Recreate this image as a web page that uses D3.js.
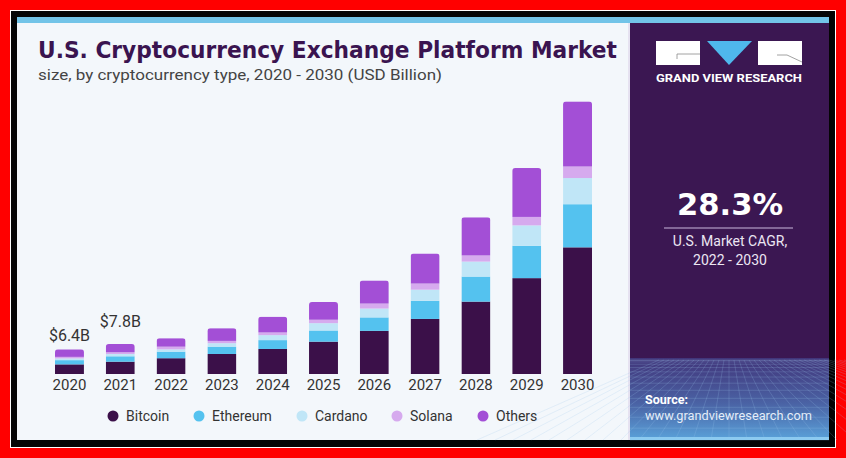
<!DOCTYPE html>
<html>
<head>
<meta charset="utf-8">
<script src="https://cdn.jsdelivr.net/npm/d3@7"></script>
<style>
  html, body { margin: 0; padding: 0; background: #ff0000; }
  svg { display: block; }
  text { font-family: Roboto, "Liberation Sans", sans-serif; }
</style>
</head>
<body>
<svg width="846" height="458"></svg>
<script>
// Data (USD billion)
const years = ['2020', '2021', '2022', '2023', '2024', '2025', '2026', '2027', '2028', '2029', '2030'];
const bitcoin  = [2.5, 3.2, 4.1, 5.2, 6.5, 8.4, 11.2, 14.3, 18.8, 24.9, 32.9];
const ethereum = [1.1, 1.4, 1.7, 1.9, 2.3, 2.9, 3.5, 4.7, 6.5, 8.4, 11.2];
const cardano  = [0.45, 0.6, 0.6, 0.9, 1.3, 1.9, 2.3, 2.9, 3.9, 5.3, 6.8];
const solana   = [0.4, 0.45, 0.7, 0.6, 0.7, 0.9, 1.3, 1.6, 1.6, 2.2, 3.0];
const others   = [1.95, 2.15, 2.2, 3.3, 4.1, 4.6, 6.0, 7.8, 9.9, 12.7, 16.9];
const seriesNames = ['Bitcoin', 'Ethereum', 'Cardano', 'Solana', 'Others'];
const seriesColors = ['#3b1049', '#54c2ef', '#c0e6f7', '#d6aaee', '#a34fd6'];
const valueLabels = ['$6.4B', '$7.8B'];

const svg = d3.select('svg');

// Frame
svg.append('rect').attr('x', 10).attr('y', 10).attr('width', 826).attr('height', 438).attr('fill', '#ffffff');
svg.append('rect').attr('x', 11).attr('y', 11).attr('width', 824).attr('height', 436).attr('fill', '#050505');
svg.append('rect').attr('x', 17).attr('y', 17).attr('width', 812).attr('height', 423).attr('fill', '#f3f7fb');
svg.append('rect').attr('x', 17).attr('y', 17).attr('width', 812).attr('height', 6).attr('fill', '#72c4e8');

// Right panel
const defs = svg.append('defs');
const grad = defs.append('linearGradient').attr('id', 'gridGrad').attr('x1', 0).attr('y1', 0).attr('x2', 0).attr('y2', 1);
grad.append('stop').attr('offset', '0%').attr('stop-color', '#41357a');
grad.append('stop').attr('offset', '55%').attr('stop-color', '#4a62a4');
grad.append('stop').attr('offset', '100%').attr('stop-color', '#5aa2da');

svg.append('rect').attr('x', 630).attr('y', 23).attr('width', 199).attr('height', 417).attr('fill', '#3b1752');
svg.append('rect').attr('x', 630).attr('y', 358).attr('width', 199).attr('height', 82).attr('fill', 'url(#gridGrad)');
svg.append('line').attr('x1', 629).attr('x2', 629).attr('y1', 23).attr('y2', 440)
  .attr('stroke', '#d8cde6').attr('stroke-width', 1);

// Perspective grid decoration
const grid = svg.append('g').attr('stroke', '#9cc6ee').attr('stroke-opacity', 0.3).attr('stroke-width', 0.7);
d3.range(0, 14).forEach(i => {
  const t = i / 13;
  const yy = 360 + 80 * t * t;
  grid.append('line').attr('x1', 630).attr('x2', 829).attr('y1', yy).attr('y2', yy);
});
d3.range(-14, 25).forEach(i => {
  grid.append('line')
    .attr('x1', 729 + i * 5).attr('y1', 360)
    .attr('x2', 729 + i * 18).attr('y2', 440);
});
svg.append('rect').attr('x', 630).attr('y', 437).attr('width', 199).attr('height', 3).attr('fill', '#8ccaf0');

// Logo
const logo = svg.append('g');
logo.append('rect').attr('x', 656).attr('y', 41).attr('width', 44).attr('height', 24).attr('fill', '#ffffff');
logo.append('path').attr('d', 'M707,41 L752,41 L729,65 Z').attr('fill', '#4fb8ec');
logo.append('rect').attr('x', 758).attr('y', 41).attr('width', 44).attr('height', 24).attr('fill', '#ffffff');
logo.append('path').attr('d', 'M700,54 L677,54 L677,59').attr('fill', 'none').attr('stroke', '#8a8a8a').attr('stroke-width', 0.8);
logo.append('path').attr('d', 'M777,55 L787,55 L802,62').attr('fill', 'none').attr('stroke', '#8a8a8a').attr('stroke-width', 0.8);
svg.append('text').attr('x', 729).attr('y', 82).attr('text-anchor', 'middle')
  .attr('fill', '#ffffff').attr('font-size', 10.5).attr('font-weight', 700)
  .attr('textLength', 146).attr('lengthAdjust', 'spacingAndGlyphs')
  .text('GRAND VIEW RESEARCH');

// CAGR block
svg.append('text').attr('x', 730).attr('y', 215).attr('text-anchor', 'middle')
  .attr('fill', '#ffffff').attr('font-size', 30).attr('font-weight', 700)
  .style('font-family', '"DejaVu Sans", sans-serif')
  .attr('textLength', 106).attr('lengthAdjust', 'spacingAndGlyphs')
  .text('28.3%');
svg.append('line').attr('x1', 664).attr('x2', 793).attr('y1', 228).attr('y2', 228)
  .attr('stroke', '#c9b8dc').attr('stroke-width', 1.2);
svg.append('text').attr('x', 730).attr('y', 246).attr('text-anchor', 'middle')
  .attr('fill', '#ece6f2').attr('font-size', 14).text('U.S. Market CAGR,');
svg.append('text').attr('x', 730).attr('y', 265).attr('text-anchor', 'middle')
  .attr('fill', '#ece6f2').attr('font-size', 14).text('2022 - 2030');

// Source
svg.append('text').attr('x', 645).attr('y', 404).attr('fill', '#ffffff')
  .attr('font-size', 12.5).attr('font-weight', 700).text('Source:');
svg.append('text').attr('x', 645).attr('y', 420).attr('fill', '#e4edf8')
  .attr('font-size', 12.5).attr('textLength', 167).attr('lengthAdjust', 'spacingAndGlyphs')
  .text('www.grandviewresearch.com');

// Title
svg.append('text').attr('x', 38).attr('y', 58).attr('fill', '#3a1450')
  .attr('font-size', 23).attr('font-weight', 700)
  .style('font-family', '"DejaVu Sans", sans-serif')
  .attr('textLength', 579).attr('lengthAdjust', 'spacingAndGlyphs')
  .text('U.S. Cryptocurrency Exchange Platform Market');
svg.append('text').attr('x', 38).attr('y', 80).attr('fill', '#444444')
  .attr('font-size', 15).attr('textLength', 404).attr('lengthAdjust', 'spacingAndGlyphs')
  .text('size, by cryptocurrency type, 2020 - 2030 (USD Billion)');

// Chart
const rows = years.map((yr, i) => ({
  year: yr,
  Bitcoin: bitcoin[i], Ethereum: ethereum[i], Cardano: cardano[i], Solana: solana[i], Others: others[i]
}));
const stack = d3.stack().keys(seriesNames)(rows);

const x = d3.scaleBand().domain(years).range([55, 592]).paddingInner(0.43).paddingOuter(0);
const y = d3.scaleLinear().domain([0, 75]).range([374, 85.25]);
const color = d3.scaleOrdinal().domain(seriesNames).range(seriesColors);

const totals = rows.map(r => d3.sum(seriesNames, k => r[k]));

// rounded tops via clip paths
years.forEach((yr, i) => {
  defs.append('clipPath').attr('id', 'clip' + i)
    .append('rect')
    .attr('x', x(yr)).attr('y', y(totals[i]))
    .attr('width', x.bandwidth()).attr('height', y(0) - y(totals[i]) + 6)
    .attr('rx', 3);
});

const barsG = svg.append('g');
stack.forEach(layer => {
  barsG.append('g').attr('fill', color(layer.key))
    .selectAll('rect').data(layer).join('rect')
    .attr('clip-path', (d, i) => `url(#clip${i})`)
    .attr('x', d => x(d.data.year))
    .attr('y', d => y(d[1]))
    .attr('width', x.bandwidth())
    .attr('height', d => y(d[0]) - y(d[1]));
});

// x axis labels
const xAxis = svg.append('g').attr('transform', 'translate(0,374)')
  .call(d3.axisBottom(x).tickSize(0).tickPadding(16));
xAxis.select('.domain').remove();
xAxis.selectAll('text').attr('font-size', 15).attr('fill', '#333333')
  .style('font-family', 'Roboto, sans-serif').attr('dy', 0);

// value labels
const labelLift = [8, 17];
valueLabels.forEach((lab, i) => {
  svg.append('text')
    .attr('x', x(years[i]) + x.bandwidth() / 2)
    .attr('y', y(totals[i]) - labelLift[i])
    .attr('text-anchor', 'middle')
    .attr('font-size', 16).attr('fill', '#333333')
    .text(lab);
});

// Legend
const legendX = [113, 199, 302, 397, 483];
const legend = svg.append('g');
seriesNames.forEach((name, i) => {
  const g = legend.append('g').attr('transform', `translate(${legendX[i]},416)`);
  g.append('circle').attr('r', 5.5).attr('fill', seriesColors[i]);
  g.append('text').attr('x', 13).attr('y', 5).attr('font-size', 14).attr('fill', '#333333').text(name);
});
</script>
</body>
</html>
